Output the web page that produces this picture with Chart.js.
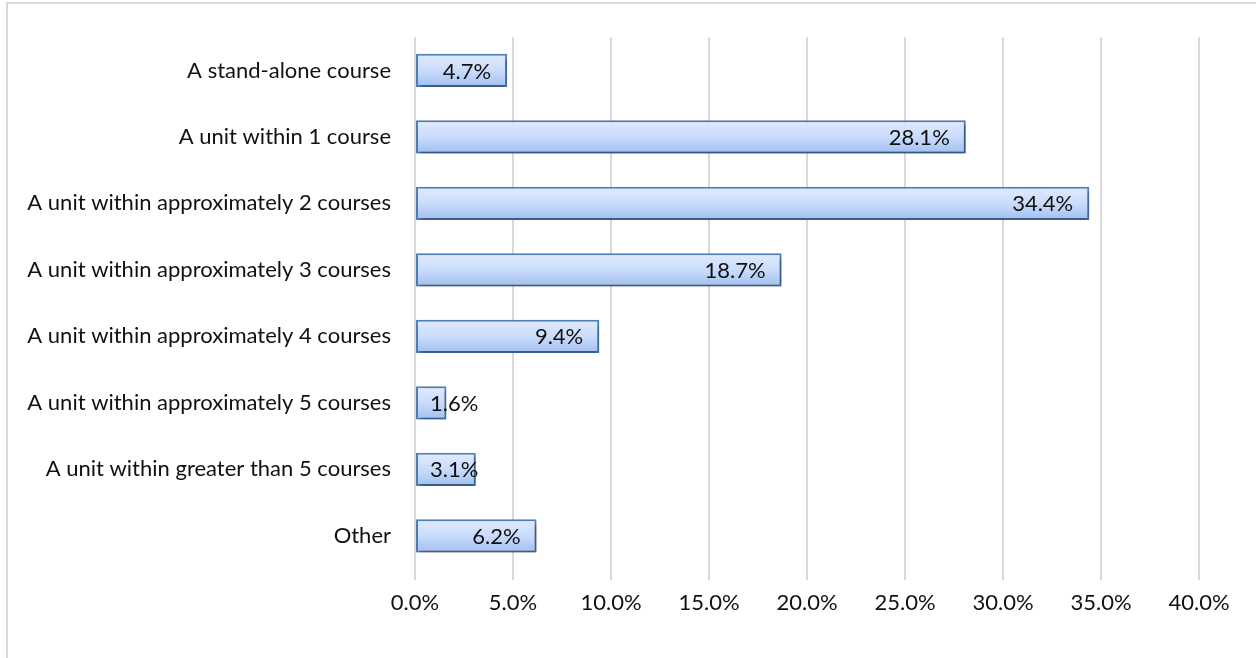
<!DOCTYPE html>
<html>
<head>
<meta charset="utf-8">
<script src="https://cdn.jsdelivr.net/npm/chart.js@4.4.1/dist/chart.umd.min.js"></script>
<style>
  html, body { margin: 0; padding: 0; background: #fff; overflow: hidden; }
  #wrap { position: absolute; left: 0; top: 0; width: 1256px; height: 658px; }
  #frame { position: absolute; left: 6px; top: 2px; width: 1300px; height: 700px; border: 2px solid #d9d9d9; box-sizing: border-box; pointer-events: none; }
</style>
</head>
<body>
<div id="wrap"><canvas id="c" width="1256" height="658"></canvas></div>
<div id="frame"></div>
<script>
const categories = [
  "A stand-alone course",
  "A unit within 1 course",
  "A unit within approximately 2 courses",
  "A unit within approximately 3 courses",
  "A unit within approximately 4 courses",
  "A unit within approximately 5 courses",
  "A unit within greater than 5 courses",
  "Other"
];
const percentValues = [4.7, 28.1, 34.4, 18.7, 9.4, 1.6, 3.1, 6.2];
const valueLabels = ["4.7%", "28.1%", "34.4%", "18.7%", "9.4%", "1.6%", "3.1%", "6.2%"];
const axisMax = 40;
const axisStep = 5;

const FONT = "Lato";
const FSIZE = 22;

function barGradient(ctx) {
  const chart = ctx.chart;
  const y = chart.scales.y;
  if (!y || !chart.chartArea) return '#c3d6f8';
  const cy = y.getPixelForValue(ctx.dataIndex);
  const half = 16;
  const g = chart.ctx.createLinearGradient(0, cy - half, 0, cy + half);
  g.addColorStop(0, '#e0eafd');
  g.addColorStop(0.5, '#cadcfb');
  g.addColorStop(1, '#a3c0f1');
  return g;
}

const shadowPlugin = {
  id: 'barShadow',
  beforeDatasetsDraw(chart) {
    const c = chart.ctx;
    c.save();
    c.shadowColor = 'rgba(0,0,0,0.4)';
    c.shadowBlur = 5;
    c.shadowOffsetX = 2;
    c.shadowOffsetY = 3;
  },
  afterDatasetsDraw(chart) {
    chart.ctx.restore();
  }
};

const labelPlugin = {
  id: 'valueLabels',
  afterDatasetsDraw(chart) {
    const c = chart.ctx;
    const meta = chart.getDatasetMeta(0);
    c.save();
    c.font = FSIZE + 'px ' + FONT;
    c.fillStyle = '#111';
    c.textAlign = 'left';
    c.textBaseline = 'middle';
    meta.data.forEach((bar, i) => {
      const t = valueLabels[i];
      const w = c.measureText(t).width;
      let x = bar.x - 16 - w;
      const minX = bar.base + 14;
      if (x < minX) x = minX;
      c.fillText(t, x, bar.y + 1);
    });
    c.restore();
  }
};

new Chart(document.getElementById('c'), {
  type: 'bar',
  data: {
    labels: categories,
    datasets: [{
      data: percentValues,
      backgroundColor: barGradient,
      borderColor: '#4f81bd',
      borderWidth: 2,
      borderSkipped: false,
      categoryPercentage: 1.0,
      barPercentage: 0.5
    }]
  },
  options: {
    indexAxis: 'y',
    responsive: false,
    animation: false,
    devicePixelRatio: 1,
    layout: { padding: { top: 37, right: 57, left: 0, bottom: 0 } },
    plugins: { legend: { display: false }, tooltip: { enabled: false } },
    scales: {
      x: {
        min: 0, max: axisMax,
        ticks: {
          stepSize: axisStep,
          color: '#111',
          font: { family: FONT, size: FSIZE },
          padding: 10,
          callback: v => v.toFixed(1) + '%'
        },
        grid: { color: '#d9d9d9', lineWidth: 2, drawTicks: true, tickLength: 11, tickColor: '#d9d9d9' },
        border: { display: false },
        afterFit(s) { s.height = 89; }
      },
      y: {
        ticks: {
          color: '#111',
          font: { family: FONT, size: FSIZE },
          padding: 24
        },
        grid: { display: false, drawTicks: false },
        border: { display: false },
        afterFit(s) { s.width = 415; }
      }
    }
  },
  plugins: [shadowPlugin, labelPlugin]
});
</script>
</body>
</html>
